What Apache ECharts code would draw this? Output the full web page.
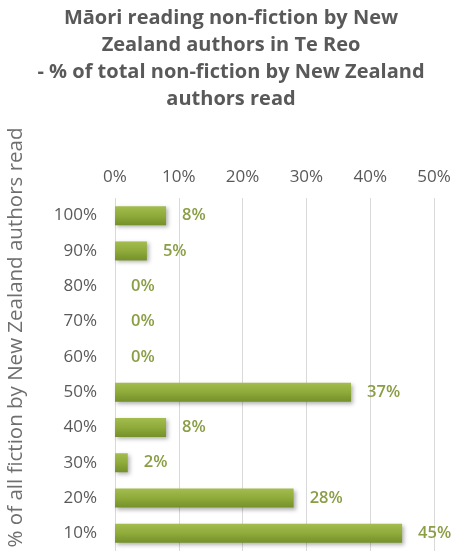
<!DOCTYPE html>
<html>
<head>
<meta charset="utf-8">
<script src="https://cdn.jsdelivr.net/npm/echarts@6/dist/echarts.min.js"></script>
<style>html,body{margin:0;padding:0;background:#fff;}#c{width:462px;height:559px;}</style>
</head>
<body>
<div id="c"></div>
<script>
const titleText = 'Māori reading non-fiction by New\nZealand authors in Te Reo\n- % of total non-fiction by New Zealand\nauthors read';
const yAxisName = '% of all fiction by New Zealand authors read';
const categories = ['10%','20%','30%','40%','50%','60%','70%','80%','90%','100%'];
const values = [45, 28, 2, 8, 37, 0, 0, 0, 5, 8];
const xTicks = [0, 10, 20, 30, 40, 50];

const chart = echarts.init(document.getElementById('c'), null, {renderer:'canvas'});
chart.setOption({
  backgroundColor: '#fff',
  animation: false,
  title: {
    text: titleText,
    left: 'center',
    top: 0,
    textStyle: {fontFamily:'Open Sans', fontWeight:'bold', fontSize:20, color:'#595959', lineHeight:27}
  },
  grid: {left:115, right:28, top:198, bottom:8, outerBoundsMode:'none', containLabel:false},
  xAxis: {
    type:'value', position:'top', min:xTicks[0], max:xTicks[xTicks.length-1], interval:10,
    axisLine:{show:false}, axisTick:{show:false},
    axisLabel:{formatter:'{value}%', color:'#595959', fontFamily:'Open Sans', fontSize:17, margin:12},
    splitLine:{lineStyle:{color:'#d9d9d9', width:1}}
  },
  yAxis: {
    type:'category', data:categories,
    name: yAxisName, nameLocation:'middle', nameRotate:90, nameGap:88, nameMoveOverlap:false,
    nameTextStyle:{color:'#6f6f6f', fontFamily:'Open Sans', fontSize:20.5, padding:[0,0,0,74]},
    axisLine:{show:false}, axisTick:{show:false},
    axisLabel:{color:'#595959', fontFamily:'Open Sans', fontSize:17, margin:18}
  },
  series: [{
    type:'bar', data:values, barWidth:19,
    itemStyle:{
      color: new echarts.graphic.LinearGradient(0,0,0,1,[
        {offset:0, color:'#a3bd4f'},{offset:0.5, color:'#8fab3a'},{offset:1, color:'#74902a'}
      ]),
      shadowColor:'rgba(0,0,0,0.3)', shadowBlur:4, shadowOffsetX:2, shadowOffsetY:2
    },
    label:{show:true, position:'right', distance:16, formatter:'{c}%', color:'#8a9e45',
      fontFamily:'Open Sans', fontWeight:600, fontSize:16.5}
  }]
});
</script>
</body>
</html>
